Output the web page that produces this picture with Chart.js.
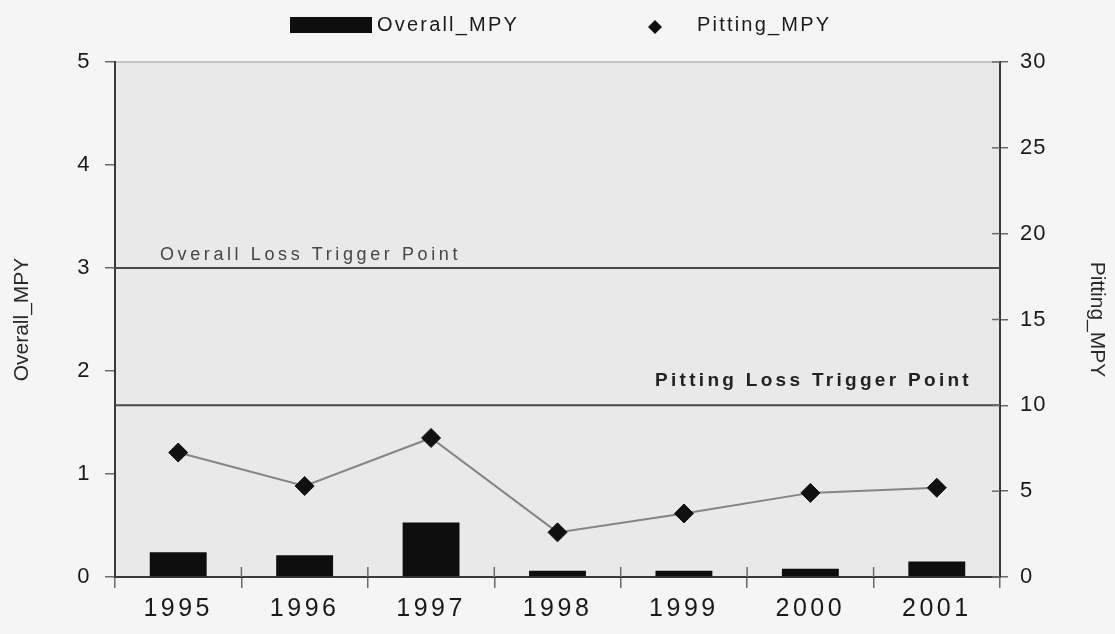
<!DOCTYPE html>
<html>
<head>
<meta charset="utf-8">
<script src="https://cdn.jsdelivr.net/npm/chart.js@4.4.0/dist/chart.umd.min.js"></script>
<style>
  html, body { margin: 0; padding: 0; background: #f5f5f5; }
  #wrap { width: 1115px; height: 634px; }
</style>
</head>
<body>
<div id="wrap"><canvas id="c" width="1115" height="634"></canvas></div>
<script>
// Annual corrosion rates (mils per year)
const years = ['1995', '1996', '1997', '1998', '1999', '2000', '2001'];
const overallMpy = [0.24, 0.21, 0.53, 0.06, 0.06, 0.08, 0.15];
const pittingMpy = [7.25, 5.3, 8.1, 2.6, 3.7, 4.9, 5.2];

// Axis ranges
const overallAxis = { min: 0, max: 5, step: 1 };
const pittingAxis = { min: 0, max: 30, step: 5 };

// Loss trigger levels
const overallTrigger = 3;
const pittingTrigger = 10;
const overallTriggerLabel = 'Overall Loss Trigger Point';
const pittingTriggerLabel = 'Pitting Loss Trigger Point';

const FONT = "'Liberation Sans', Arial, Helvetica, sans-serif";
const TEXT = '#1a1a1a';
const AXIS = '#3a3a3a';

// Wrap a scale's label drawing so its tick text gets letter spacing
function spacedLabels(px) {
  return function (scale) {
    if (scale._spacedLabels) return;
    scale._spacedLabels = true;
    const base = scale.drawLabels;
    scale.drawLabels = function (area) {
      const ctx = this.ctx;
      ctx.save();
      ctx.letterSpacing = px + 'px';
      base.call(this, area);
      ctx.restore();
    };
  };
}

function drawText(ctx, str, x, y, font, color, spacing, align) {
  ctx.save();
  ctx.font = font;
  ctx.fillStyle = color;
  ctx.letterSpacing = spacing + 'px';
  ctx.textAlign = align || 'left';
  ctx.textBaseline = 'middle';
  ctx.fillText(str, x, y);
  ctx.restore();
}

// Plot background and the light top frame line
const backdrop = {
  id: 'backdrop',
  beforeDraw(chart) {
    const { ctx, chartArea: a } = chart;
    ctx.save();
    ctx.fillStyle = '#f5f5f5';
    ctx.fillRect(0, 0, chart.width, chart.height);
    ctx.fillStyle = '#e9e9e9';
    ctx.fillRect(a.left, a.top, a.right - a.left, a.bottom - a.top);
    ctx.strokeStyle = '#b8b8b8';
    ctx.lineWidth = 1.5;
    ctx.beginPath();
    ctx.moveTo(a.left, a.top);
    ctx.lineTo(a.right, a.top);
    ctx.stroke();
    ctx.restore();
  }
};

// Horizontal trigger lines with their captions, plus inner tick stubs
const triggers = {
  id: 'triggers',
  beforeDatasetsDraw(chart) {
    const { ctx, chartArea: a, scales } = chart;
    const yo = scales.y.getPixelForValue(overallTrigger);
    const yp = scales.y1.getPixelForValue(pittingTrigger);
    ctx.save();
    ctx.strokeStyle = '#4a4a4a';
    ctx.lineWidth = 2;
    [yo, yp].forEach(y => {
      ctx.beginPath();
      ctx.moveTo(a.left, y);
      ctx.lineTo(a.right, y);
      ctx.stroke();
    });

    // category boundary stubs above the x axis
    ctx.strokeStyle = '#6a6a6a';
    ctx.lineWidth = 1.5;
    const x = scales.x;
    for (let i = 0; i < years.length - 1; i++) {
      const px = (x.getPixelForValue(i) + x.getPixelForValue(i + 1)) / 2;
      ctx.beginPath();
      ctx.moveTo(px, a.bottom);
      ctx.lineTo(px, a.bottom - 10);
      ctx.stroke();
    }
    // right axis stubs inside the plot
    for (let v = pittingAxis.min; v <= pittingAxis.max; v += pittingAxis.step) {
      const py = scales.y1.getPixelForValue(v);
      ctx.beginPath();
      ctx.moveTo(a.right, py);
      ctx.lineTo(a.right - 8, py);
      ctx.stroke();
    }
    ctx.restore();

    drawText(ctx, overallTriggerLabel, a.left + 45, yo - 13,
      '18px ' + FONT, '#454545', 3.6, 'left');
    drawText(ctx, pittingTriggerLabel, a.right - 28, yp - 25,
      'bold 19px ' + FONT, '#222222', 3.3, 'right');
  }
};

// Legend row across the top
const topLegend = {
  id: 'topLegend',
  afterDraw(chart) {
    const ctx = chart.ctx;
    ctx.save();
    ctx.fillStyle = '#0e0e0e';
    ctx.fillRect(290, 17, 82, 16);
    ctx.beginPath();
    const cx = 655, cy = 27, r = 7;
    ctx.moveTo(cx - r, cy);
    ctx.lineTo(cx, cy - r);
    ctx.lineTo(cx + r, cy);
    ctx.lineTo(cx, cy + r);
    ctx.closePath();
    ctx.fill();
    ctx.restore();
    drawText(ctx, chart.data.datasets[1].label, 377, 25, '20px ' + FONT, TEXT, 2.2, 'left');
    drawText(ctx, chart.data.datasets[0].label, 697, 25, '20px ' + FONT, TEXT, 2.2, 'left');
  }
};

new Chart(document.getElementById('c'), {
  data: {
    labels: years,
    datasets: [
      {
        type: 'line',
        label: 'Pitting_MPY',
        data: pittingMpy,
        yAxisID: 'y1',
        borderColor: '#858585',
        borderWidth: 2,
        tension: 0,
        pointStyle: 'rectRot',
        pointRadius: 9.5,
        pointBackgroundColor: '#111111',
        pointBorderColor: '#111111',
        pointBorderWidth: 1,
        order: 0
      },
      {
        type: 'bar',
        label: 'Overall_MPY',
        data: overallMpy,
        yAxisID: 'y',
        backgroundColor: '#0e0e0e',
        barPercentage: 0.45,
        categoryPercentage: 1,
        order: 1
      }
    ]
  },
  options: {
    responsive: false,
    animation: false,
    devicePixelRatio: 1,
    layout: { padding: { top: 62, left: 0, right: 0, bottom: 0 } },
    plugins: { legend: { display: false }, tooltip: { enabled: false } },
    scales: {
      x: {
        type: 'category',
        offset: true,
        grid: { display: true, drawOnChartArea: false, offset: true, tickLength: 11, color: '#6a6a6a', lineWidth: 1.5 },
        border: { display: true, color: AXIS, width: 2 },
        ticks: { font: { family: FONT, size: 25 }, color: TEXT, padding: 6, maxRotation: 0 },
        afterFit(s) { s.height = 57; },
        afterBuildTicks: spacedLabels(3.5)
      },
      y: {
        position: 'left',
        min: overallAxis.min,
        max: overallAxis.max,
        ticks: { stepSize: overallAxis.step, font: { family: FONT, size: 22 }, color: TEXT, padding: 14 },
        grid: { drawOnChartArea: false, tickLength: 10, color: '#6a6a6a', lineWidth: 1.5 },
        border: { display: true, color: AXIS, width: 2 },
        title: { display: true, text: 'Overall_MPY', font: { family: FONT, size: 21 }, color: '#2a2a2a', padding: { top: 10, bottom: 0 } },
        afterFit(s) { s.width = 115; },
        afterBuildTicks: spacedLabels(1.5)
      },
      y1: {
        position: 'right',
        min: pittingAxis.min,
        max: pittingAxis.max,
        ticks: { stepSize: pittingAxis.step, font: { family: FONT, size: 22 }, color: TEXT, padding: 12 },
        grid: { drawOnChartArea: false, tickLength: 8, color: '#6a6a6a', lineWidth: 1.5 },
        border: { display: true, color: AXIS, width: 2 },
        title: { display: true, text: 'Pitting_MPY', font: { family: FONT, size: 21 }, color: '#2a2a2a', padding: { top: 6, bottom: 0 } },
        afterFit(s) { s.width = 115; },
        afterBuildTicks: spacedLabels(1)
      }
    }
  },
  plugins: [backdrop, triggers, topLegend]
});
</script>
</body>
</html>
